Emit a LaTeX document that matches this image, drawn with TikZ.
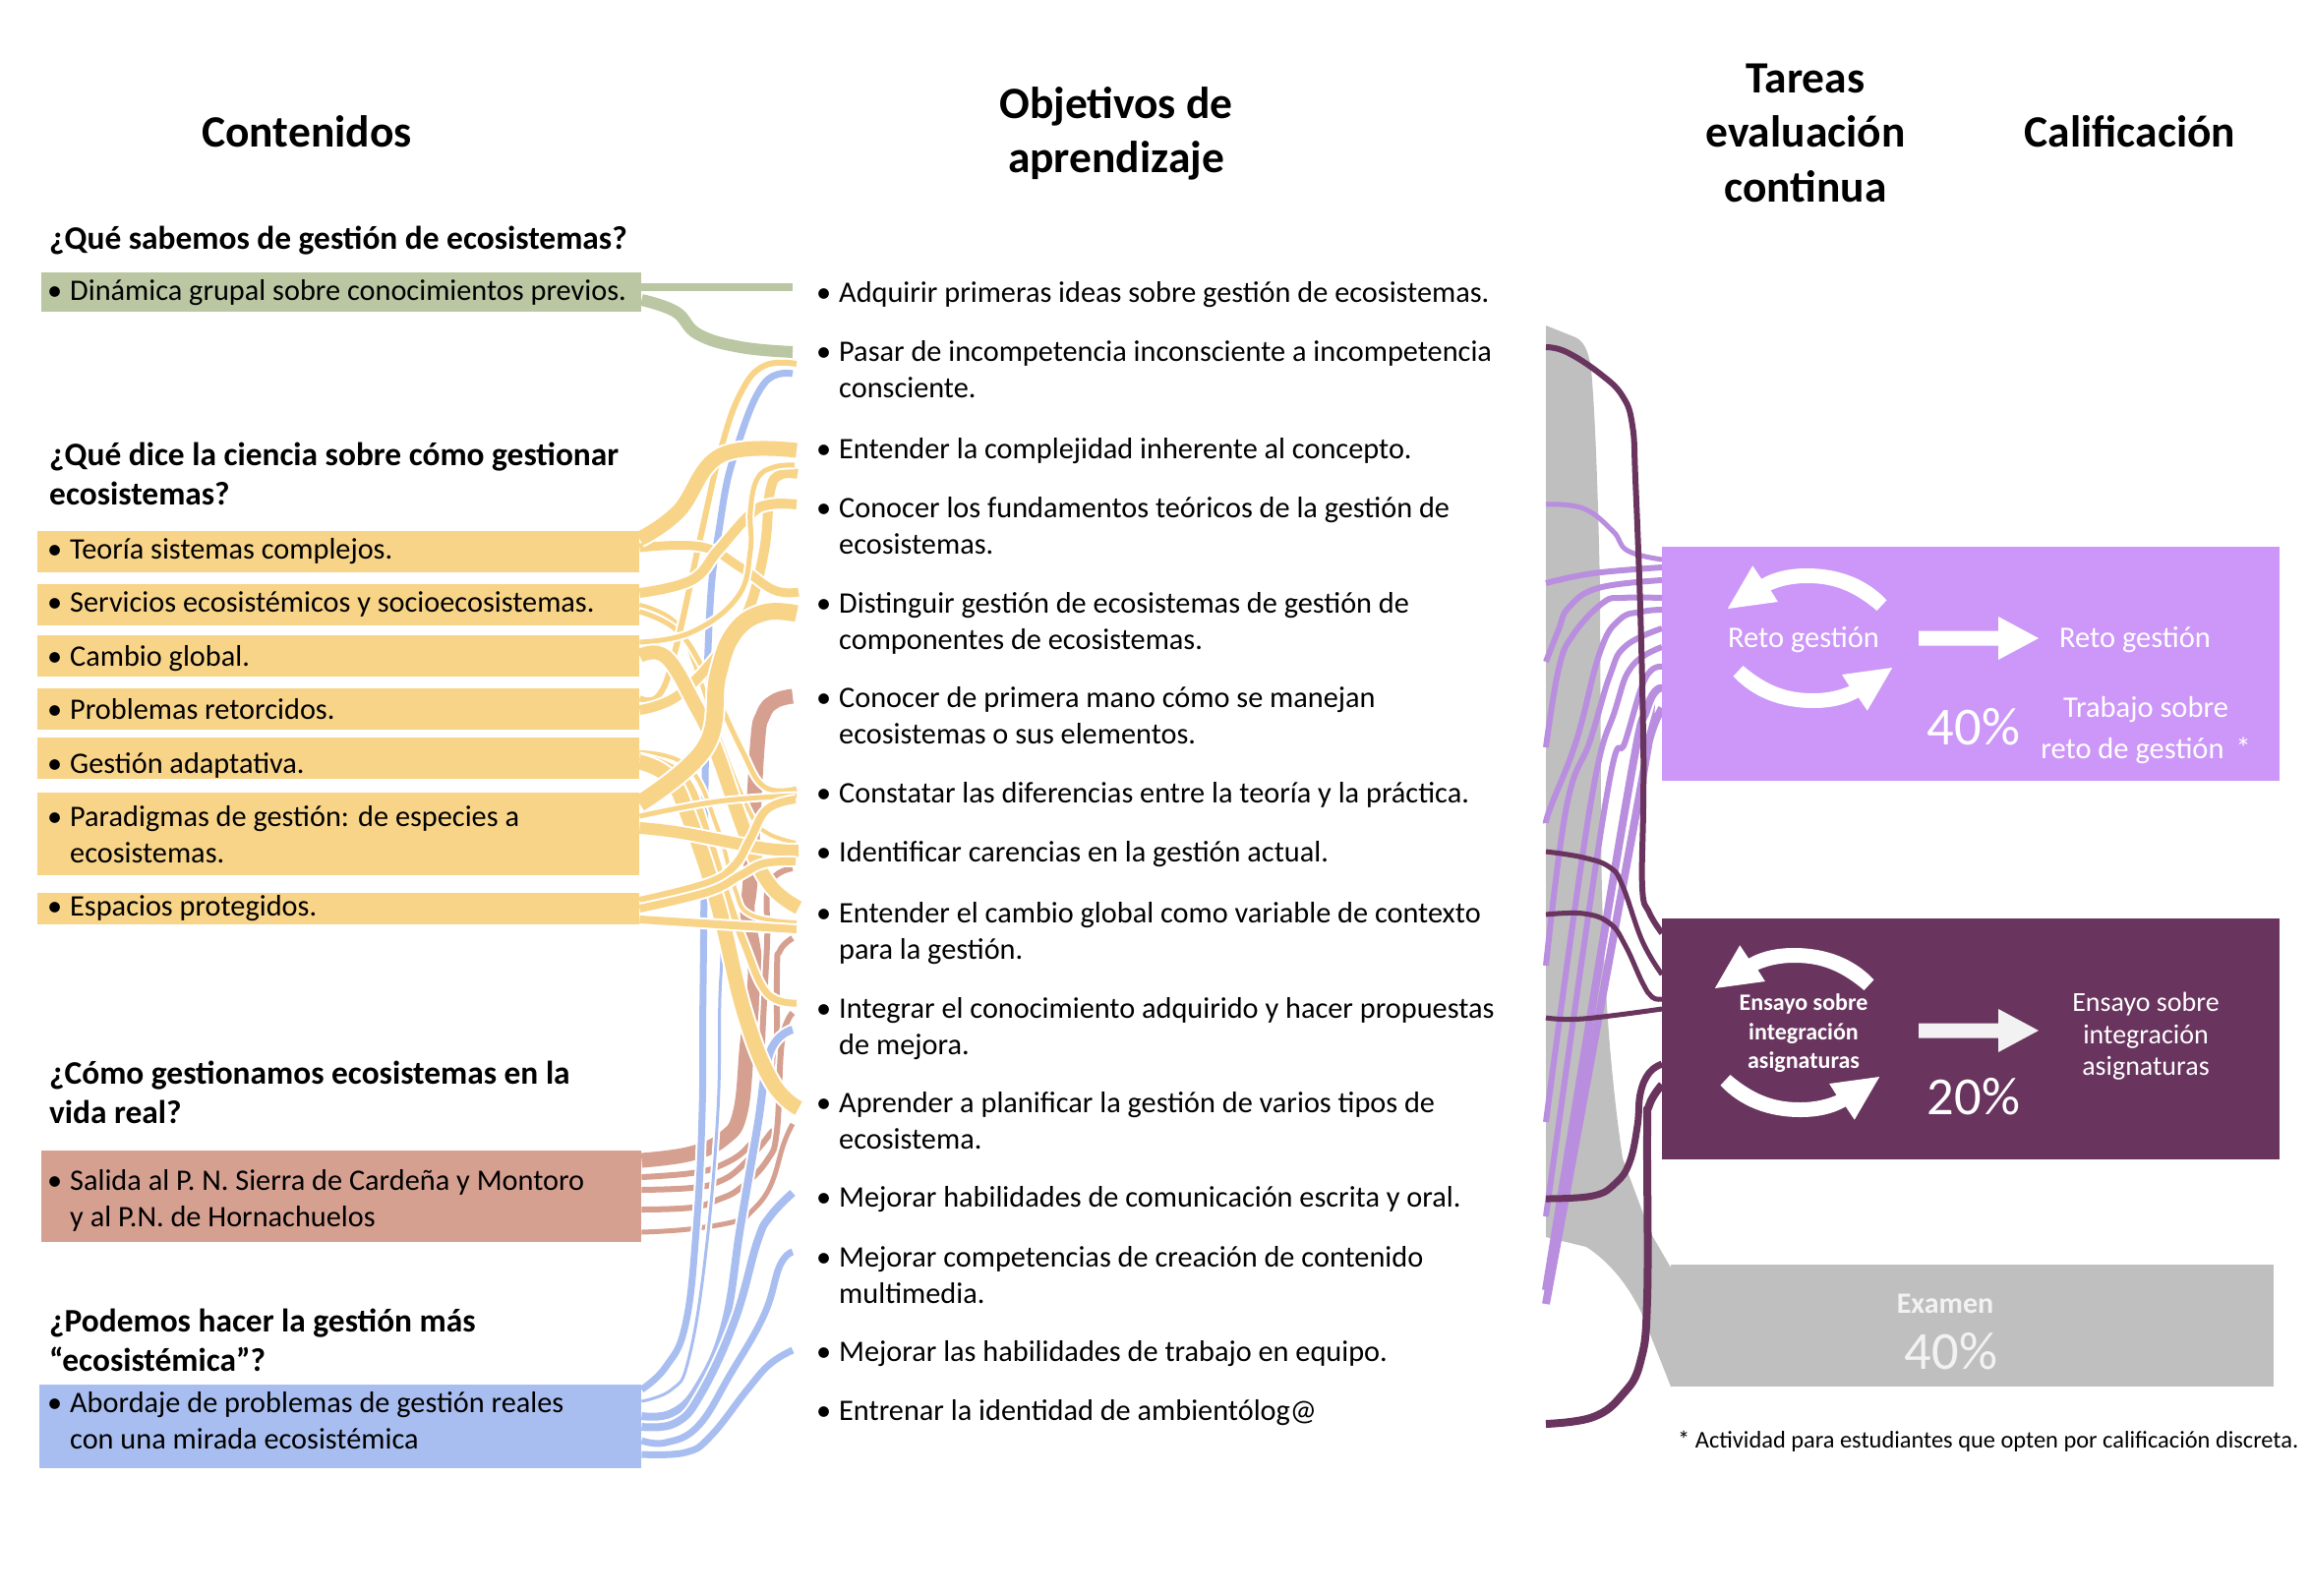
\documentclass[tikz,border=0pt]{standalone}
\usepackage{fontspec}
\setmainfont{Carlito}
\usetikzlibrary{calc,positioning,backgrounds}
\definecolor{vgreen}{HTML}{BAC7A2}
\definecolor{vyellow}{HTML}{F8D488}
\definecolor{vred}{HTML}{D6A091}
\definecolor{vblue}{HTML}{A9BEF0}
\definecolor{vlilac}{HTML}{CC97F8}
\definecolor{vstrand}{HTML}{B98EDF}
\definecolor{vplum}{HTML}{69345E}
\definecolor{vgray}{HTML}{BFBFBF}
\tikzstyle{title}    = [font=\fontsize{45.5}{55.5}\selectfont\bfseries, align=center]
\tikzstyle{question} = [font=\fontsize{33.4}{40}\selectfont\bfseries, align=left, anchor=north west, inner sep=0pt]
\tikzstyle{goal}     = [font=\fontsize{30.3}{37}\selectfont, text width=700pt, align=flush left, anchor=north west, inner sep=0pt]
\tikzstyle{topic}    = [font=\fontsize{30.3}{37}\selectfont, text width=586pt, align=flush left, anchor=north west, inner xsep=13pt, inner ysep=0pt]
\tikzstyle{panel}    = [anchor=north west, inner sep=0pt]
\tikzstyle{paneltext}= [text=white, font=\fontsize{30.5}{42}\selectfont, align=center, inner sep=0pt]
\tikzstyle{percent}  = [text=white, font=\fontsize{54.5}{56}\selectfont, inner sep=0pt]
\tikzset{
  halfcycle/.pic={
    \path[pic actions] (78,-38.7) -- (68,-28) .. controls (40,-52) and (18,-56) .. (-3.4,-56)
      .. controls (-18,-56) and (-30,-53) .. (-40,-48.7) -- (-32.6,-37) -- (-83.7,-30) -- (-58.3,-73.7)
      -- (-49.3,-60.3) .. controls (-36,-68) and (-20,-71) .. (-3.4,-71) .. controls (30,-71) and (58,-60) .. cycle;
  },
  bigarrow/.pic={
    \path[pic actions] (0,-7.5) -- (81,-7.5) -- (81,-22) -- (122,0) -- (81,22) -- (81,7.5) -- (0,7.5) -- cycle;
  }
}
\newcommand{\itm}[2][0pt]{\raisebox{#1}[\height][\depth]{\makebox[20pt][l]{\hspace{-3pt}\textbullet}\begin{tabular}[t]{@{}l@{}}#2\end{tabular}}}
\newcommand{\flow}[3]{\draw[draw=#1,line width=#2pt,preaction={draw=white,line width=#2pt+4pt}] plot[smooth,tension=.7] coordinates {#3};}
\newcommand{\band}[3]{\draw[draw=#1,line width=#2pt] plot[smooth,tension=.7] coordinates {#3};}

\begin{document}
\begin{tikzpicture}[x=1pt,y=-1pt]
    \useasboundingbox (0,0) rectangle (2350,1622);

    % titles
    \node[title] (tcont) at (312,134) {Contenidos};
    \node[title] (tobj) at (1135,136) {Objetivos de\\aprendizaje};
    \node[title] (ttar) at (1836,135) {Tareas\\evaluación\\continua};
    \node[title] (tcal) at (2166,134) {Calificación};

    % left column
    \node[question] (q1) at (50,230) {¿Qué sabemos de gestión de ecosistemas?};
    \node[question] (q2) at (50,450) {¿Qué dice la ciencia sobre cómo gestionar\\ecosistemas?};
    \node[question] (q3) at (50,1079) {¿Cómo gestionamos ecosistemas en la\\vida real?};
    \node[question] (q4) at (50,1331) {¿Podemos hacer la gestión más\\“ecosistémica”?};

    \node[topic,fill=vgreen,minimum height=40pt,inner xsep=9pt,text width=592pt] (dinamica) at (42,277) {\itm[-1pt]{Dinámica grupal sobre conocimientos previos.}};
    \node[topic,fill=vyellow,minimum height=42pt] (teoria) at (38,540) {\itm{Teoría sistemas complejos.}};
    \node[topic,fill=vyellow,minimum height=42pt] (servicios) at (38,594) {\itm{Servicios ecosistémicos y socioecosistemas.}};
    \node[topic,fill=vyellow,minimum height=42pt] (cambio) at (38,646) {\itm[-3pt]{Cambio global.}};
    \node[topic,fill=vyellow,minimum height=42pt] (problemas) at (38,700) {\itm[-3pt]{Problemas retorcidos.}};
    \node[topic,fill=vyellow,minimum height=42pt] (adaptativa) at (38,750) {\itm[-7.5pt]{Gestión adaptativa.}};
    \node[topic,fill=vyellow,minimum height=84pt] (paradigmas) at (38,806) {\itm[-3pt]{Paradigmas de gestión: de especies a\\ecosistemas.}};
    \node[topic,fill=vyellow,minimum height=32pt] (espacios) at (38,908) {\raisebox{-4.7pt}[11pt][5pt]{\itm{Espacios protegidos.}}};
    \node[topic,fill=vred,minimum height=93pt,inner xsep=9pt,text width=592pt] (salida) at (42,1170) {\itm[-5pt]{Salida al P. N. Sierra de Cardeña y Montoro\\y al P.N. de Hornachuelos}};
    \node[topic,fill=vblue,minimum height=85pt,inner xsep=11pt,text width=590pt] (abordaje) at (40,1408) {\itm[3pt]{Abordaje de problemas de gestión reales\\con una mirada ecosistémica}};

    % objectives
    \node[goal] (g1) at (833,281) {\itm{Adquirir primeras ideas sobre gestión de ecosistemas.}};
    \node[goal] (g2) at (833,341) {\itm{Pasar de incompetencia inconsciente a incompetencia\\consciente.}};
    \node[goal] (g3) at (833,440) {\itm{Entender la complejidad inherente al concepto.}};
    \node[goal] (g4) at (833,500) {\itm{Conocer los fundamentos teóricos de la gestión de\\ecosistemas.}};
    \node[goal] (g5) at (833,597) {\itm{Distinguir gestión de ecosistemas de gestión de\\componentes de ecosistemas.}};
    \node[goal] (g6) at (833,693) {\itm{Conocer de primera mano cómo se manejan\\ecosistemas o sus elementos.}};
    \node[goal] (g7) at (833,790) {\itm{Constatar las diferencias entre la teoría y la práctica.}};
    \node[goal] (g8) at (833,850) {\itm{Identificar carencias en la gestión actual.}};
    \node[goal] (g9) at (833,912) {\itm{Entender el cambio global como variable de contexto\\para la gestión.}};
    \node[goal] (g10) at (833,1009) {\itm{Integrar el conocimiento adquirido y hacer propuestas\\de mejora.}};
    \node[goal] (g11) at (833,1105) {\itm{Aprender a planificar la gestión de varios tipos de\\ecosistema.}};
    \node[goal] (g12) at (833,1201) {\itm{Mejorar habilidades de comunicación escrita y oral.}};
    \node[goal] (g13) at (833,1262) {\itm{Mejorar competencias de creación de contenido\\multimedia.}};
    \node[goal] (g14) at (833,1358) {\itm{Mejorar las habilidades de trabajo en equipo.}};
    \node[goal] (g15) at (833,1418) {\itm{Entrenar la identidad de ambientólog@}};

    % right panels
    \node[panel,fill=vlilac,minimum height=238pt,minimum width=628pt] (reto) at (1690,556) {};
    \node[panel,fill=vplum,minimum height=245pt,minimum width=628pt] (ensayo) at (1690,934) {};
    \node[panel,fill=vgray,minimum height=124pt,minimum width=613pt] (examen) at (1699,1286) {};

    \pic[fill=white] at (1840.5,649) {halfcycle};
    \pic[fill=white,rotate=180] at (1840.5,649) {halfcycle};
    \pic[fill=white] at (1951,649) {bigarrow};
    \node[paneltext] (r1) at (1834,651) {Reto gestión};
    \node[paneltext] (r2) at (2171,651) {Reto gestión};
    \node[percent] (r3) at (2007,739) {40\%};
    \node[paneltext] (r4) at (2182,743) {Trabajo sobre\\reto de gestión \,*};

    \pic[fill=white] at (1827.5,1035) {halfcycle};
    \pic[fill=white,rotate=180] at (1827.5,1065) {halfcycle};
    \pic[fill=white!95!black] at (1951,1048) {bigarrow};
    \node[paneltext,font=\fontsize{24}{29.5}\selectfont\bfseries] (e1) at (1834,1051) {Ensayo sobre\\integración\\asignaturas};
    \node[paneltext,font=\fontsize{28}{32.5}\selectfont] (e2) at (2182,1054) {Ensayo sobre\\integración\\asignaturas};
    \node[percent] (e3) at (2007,1115) {20\%};

    \node[paneltext,text=white!95!black,font=\fontsize{30}{32}\selectfont\bfseries] (x1) at (1978,1326) {Examen};
    \node[percent,text=white!95!black] (x2) at (1984,1374) {40\%};

    \node[inner sep=0pt,anchor=west,font=\fontsize{24.4}{28}\selectfont] (nota) at (1706,1466) {* Actividad para estudiantes que opten por calificación discreta.};

    % free ends on the right
    \coordinate (p1) at (1572,513);
    \coordinate (p2) at (1572,593);
    \coordinate (p3) at (1572,673);
    \coordinate (p4) at (1572,760);
    \coordinate (p5) at (1572,837);
    \coordinate (p6) at (1572,982);
    \coordinate (p7) at (1572,1141);
    \coordinate (p8) at (1572,1237);
    \coordinate (p9) at (1572,1312);
    \coordinate (p10) at (1572,1326);
    \coordinate (d1) at (1572,353);
    \coordinate (d2) at (1572,866);
    \coordinate (d3) at (1572,930);
    \coordinate (d4) at (1572,1035);
    \coordinate (d5) at (1572,1219);
    \coordinate (d6) at (1572,1448);

    \begin{scope}[on background layer]
        % green
        \flow{vgreen}{8}{([shift={(0,15)}]dinamica.north east) ([shift={(-27,11)}]g1.north west)}
        \flow{vgreen}{12}{([shift={(0,28)}]dinamica.north east) (687,317) (710,340) (753,353) ([shift={(-27,17)}]g2.north west)}
        % red
        \flow{vred}{15}{([shift={(0,10)}]salida.north east) (703,1173) (737,1157) (753,1130) (760,1060) (767,1007) (767,973) (760,927) (763,893) (770,760) (776,727) (788,713) ([shift={(-27,15)}]g6.north west)}
        \flow{vred}{6}{([shift={(0,27)}]salida.north east) (703,1193) (733,1185) (760,1167) (773,1140) (775,1060) (780,960) (782,900) ([shift={(-27,33)}]g8.north west)}
        \flow{vred}{6}{([shift={(0,40)}]salida.north east) (703,1208) (730,1202) (753,1187) (783,1153) (790,1135) (790,993) (793,967) ([shift={(-27,42)}]g9.north west)}
        \flow{vred}{6}{([shift={(0,60)}]salida.north east) (703,1228) (730,1220) (753,1208) (780,1180) (790,1150) (795,1060) ([shift={(-27,21)}]g10.north west)}
        \flow{vred}{5}{([shift={(0,83)}]salida.north east) (700,1250) (748,1242) (763,1233) (783,1207) (797,1163) ([shift={(-27,38)}]g11.north west)}
        % blue
        \flow{vblue}{7}{([shift={(0,5)}]abordaje.north east) (677,1390) (697,1347) (708,1250) (714,1130) (715,1000) (720,660) (733,527) (750,453) (777,390) ([shift={(-27,39)}]g2.north west)}
        \flow{vblue}{3}{([shift={(0,17)}]abordaje.north east) (683,1413) (700,1383) (717,1280) (730,1130) (733,993) (745,900) ([shift={(-27,16)}]g8.north west)}
        \flow{vblue}{8}{([shift={(0,32)}]abordaje.north east) (683,1437) (710,1410) (737,1347) (753,1247) (770,1147) (783,1070) ([shift={(-27,38)}]g10.north west)}
        \flow{vblue}{8}{([shift={(0,43)}]abordaje.north east) (687,1447) (713,1417) (747,1343) (770,1263) (783,1237) ([shift={(-27,12)}]g12.north west)}
        \flow{vblue}{7}{([shift={(0,57)}]abordaje.north east) (677,1467) (710,1450) (743,1397) (777,1337) (793,1287) ([shift={(-27,11)}]g13.north west)}
        \flow{vblue}{7}{([shift={(0,71)}]abordaje.north east) (697,1477) (723,1460) (760,1413) (783,1387) ([shift={(-27,15)}]g14.north west)}
        % yellow
        \flow{vyellow}{4}{([shift={(0,21)}]servicios.north east) (687,633) (707,677) (735,760) (763,827) (780,847) ([shift={(-24,7)}]g8.north west)}
        \flow{vyellow}{5}{([shift={(0,28)}]servicios.north east) (687,640) (715,680) (753,760) (777,800) ([shift={(-23,12)}]g7.north west)}
        \flow{vyellow}{6}{([shift={(0,10)}]problemas.north east) (670,707) (687,660) (713,543) (733,457) (753,400) (777,372) ([shift={(-23,29)}]g2.north west)}
        \flow{vyellow}{10}{([shift={(0,22)}]problemas.north east) (690,707) (735,660) (760,623) (777,560) (783,500) (793,483) ([shift={(-22,42)}]g3.north west)}
        \flow{vyellow}{9}{([shift={(0,17)}]teoria.north east) (713,556) (753,577) (787,600) ([shift={(-21,5)}]g5.north west)}
        \flow{vyellow}{10}{([shift={(0,9)}]servicios.north east) (703,590) (730,560) (763,523) (783,513) ([shift={(-23,13)}]g4.north west)}
        \flow{vyellow}{5}{([shift={(0,7)}]cambio.north east) (703,643) (750,607) (763,560) (763,520) (770,487) (787,475) ([shift={(-25,33)}]g3.north west)}
        \flow{vyellow}{15}{([shift={(0,8)}]teoria.north east) (690,520) (733,463) ([shift={(-23,18)}]g3.north west)}
        \flow{vyellow}{4}{([shift={(0,15)}]adaptativa.north east) (700,780) (730,843) (747,903) (763,930) ([shift={(-23,26)}]g9.north west)}
        \flow{vyellow}{7}{([shift={(0,20)}]adaptativa.north east) (695,790) (720,850) (738,907) (757,960) (780,1010) ([shift={(-23,11)}]g10.north west)}
        \flow{vyellow}{14}{([shift={(0,21)}]cambio.north east) (677,668) (707,717) (727,760) (760,853) (783,900) ([shift={(-21,11)}]g9.north west)}
        \flow{vyellow}{15}{([shift={(0,25)}]adaptativa.north east) (680,790) (700,830) (730,920) (757,1030) (785,1100) ([shift={(-21,22)}]g11.north west)}
        \flow{vyellow}{12}{([shift={(0,36)}]paradigmas.north east) (693,847) (773,862) ([shift={(-21,15)}]g8.north west)}
        \flow{vyellow}{17}{([shift={(0,11)}]paradigmas.north east) (717,760) (730,687) (747,643) (777,623) ([shift={(-23,27)}]g5.north west)}
        \flow{vyellow}{5}{([shift={(0,24)}]paradigmas.north east) (730,815) ([shift={(-23,19)}]g7.north west)}
        \flow{vyellow}{8}{([shift={(0,8)}]espacios.north east) (720,898) (747,880) (763,853) (780,823) ([shift={(-24,23)}]g7.north west)}
        \flow{vyellow}{8}{([shift={(0,16)}]espacios.north east) (720,907) (753,890) (777,878) ([shift={(-24,26)}]g8.north west)}
        \flow{vyellow}{8}{([shift={(0,27)}]espacios.north east) (730,940) ([shift={(-23,33)}]g9.north west)}

        % gray band
        \fill[vgray] (1572,331) -- (1602,343) .. controls (1610,347) and (1615,355) .. (1618,375)
          .. controls (1622,420) and (1625,500) .. (1627,600) -- (1628,820)
          .. controls (1628,1000) and (1640,1110) .. (1650,1178) -- (1678,1253) -- (1699,1289) -- (1699,1410)
          -- (1678,1357) -- (1670,1337) .. controls (1655,1305) and (1635,1282) .. (1613,1268) -- (1572,1258) -- cycle;
        % lilac
        \band{vstrand}{5}{(p1) (1610,517) (1640,540) (1655,560) ([shift={(0,13)}]reto.north west)}
        \band{vstrand}{6}{(p2) (1620,583) ([shift={(0,21)}]reto.north west)}
        \band{vstrand}{6}{(p3) (1585,640) (1595,618) (1625,598) ([shift={(0,34)}]reto.north west)}
        \band{vstrand}{6}{(p4) (1585,680) (1600,645) (1630,613) (1650,608) ([shift={(0,52)}]reto.north west)}
        \band{vstrand}{6}{(p5) (1577,820) (1603,753) (1627,663) (1647,630) (1670,622) ([shift={(0,64)}]reto.north west)}
        \band{vstrand}{6}{(p6) (1593,820) (1617,753) (1637,687) (1653,657) ([shift={(0,83)}]reto.north west)}
        \band{vstrand}{6}{(p7) (1617,820) (1643,720) (1660,677) ([shift={(0,102)}]reto.north west)}
        \band{vstrand}{6}{(p8) (1632,820) (1653,753) (1673,690) ([shift={(0,122)}]reto.north west)}
        \band{vstrand}{8}{(p9) (1653,820) (1675,720) ([shift={(0,144)}]reto.north west)}
        \band{vstrand}{8}{(p10) (1665,820) (1677,753) ([shift={(0,164)}]reto.north west)}
        % plum
        \band{vplum}{6}{(d1) (1593,358) (1627,380) (1650,403) (1660,433) (1663,487) (1668,620) (1671,753) (1671,820) (1670,903) (1677,928) ([shift={(0,15)}]ensayo.north west)}
        \band{vplum}{5}{(d2) (1610,872) (1637,882) (1650,901) (1670,957) ([shift={(0,57)}]ensayo.north west)}
        \band{vplum}{5}{(d3) (1610,929) (1637,939) (1653,962) (1670,999) (1680,1014) ([shift={(0,82)}]ensayo.north west)}
        \band{vplum}{5}{(d4) (1610,1036) ([shift={(0,92)}]ensayo.north west)}
        \band{vplum}{7}{(d5) (1620,1216) (1643,1203) (1657,1182) (1665,1145) (1668,1112) (1677,1091) ([shift={(0,148)}]ensayo.north west)}
        \band{vplum}{8}{(d6) (1620,1441) (1650,1418) (1668,1385) (1675,1320) (1675,1153) (1677,1124) ([shift={(0,169)}]ensayo.north west)}
    \end{scope}
\end{tikzpicture}
\end{document}
